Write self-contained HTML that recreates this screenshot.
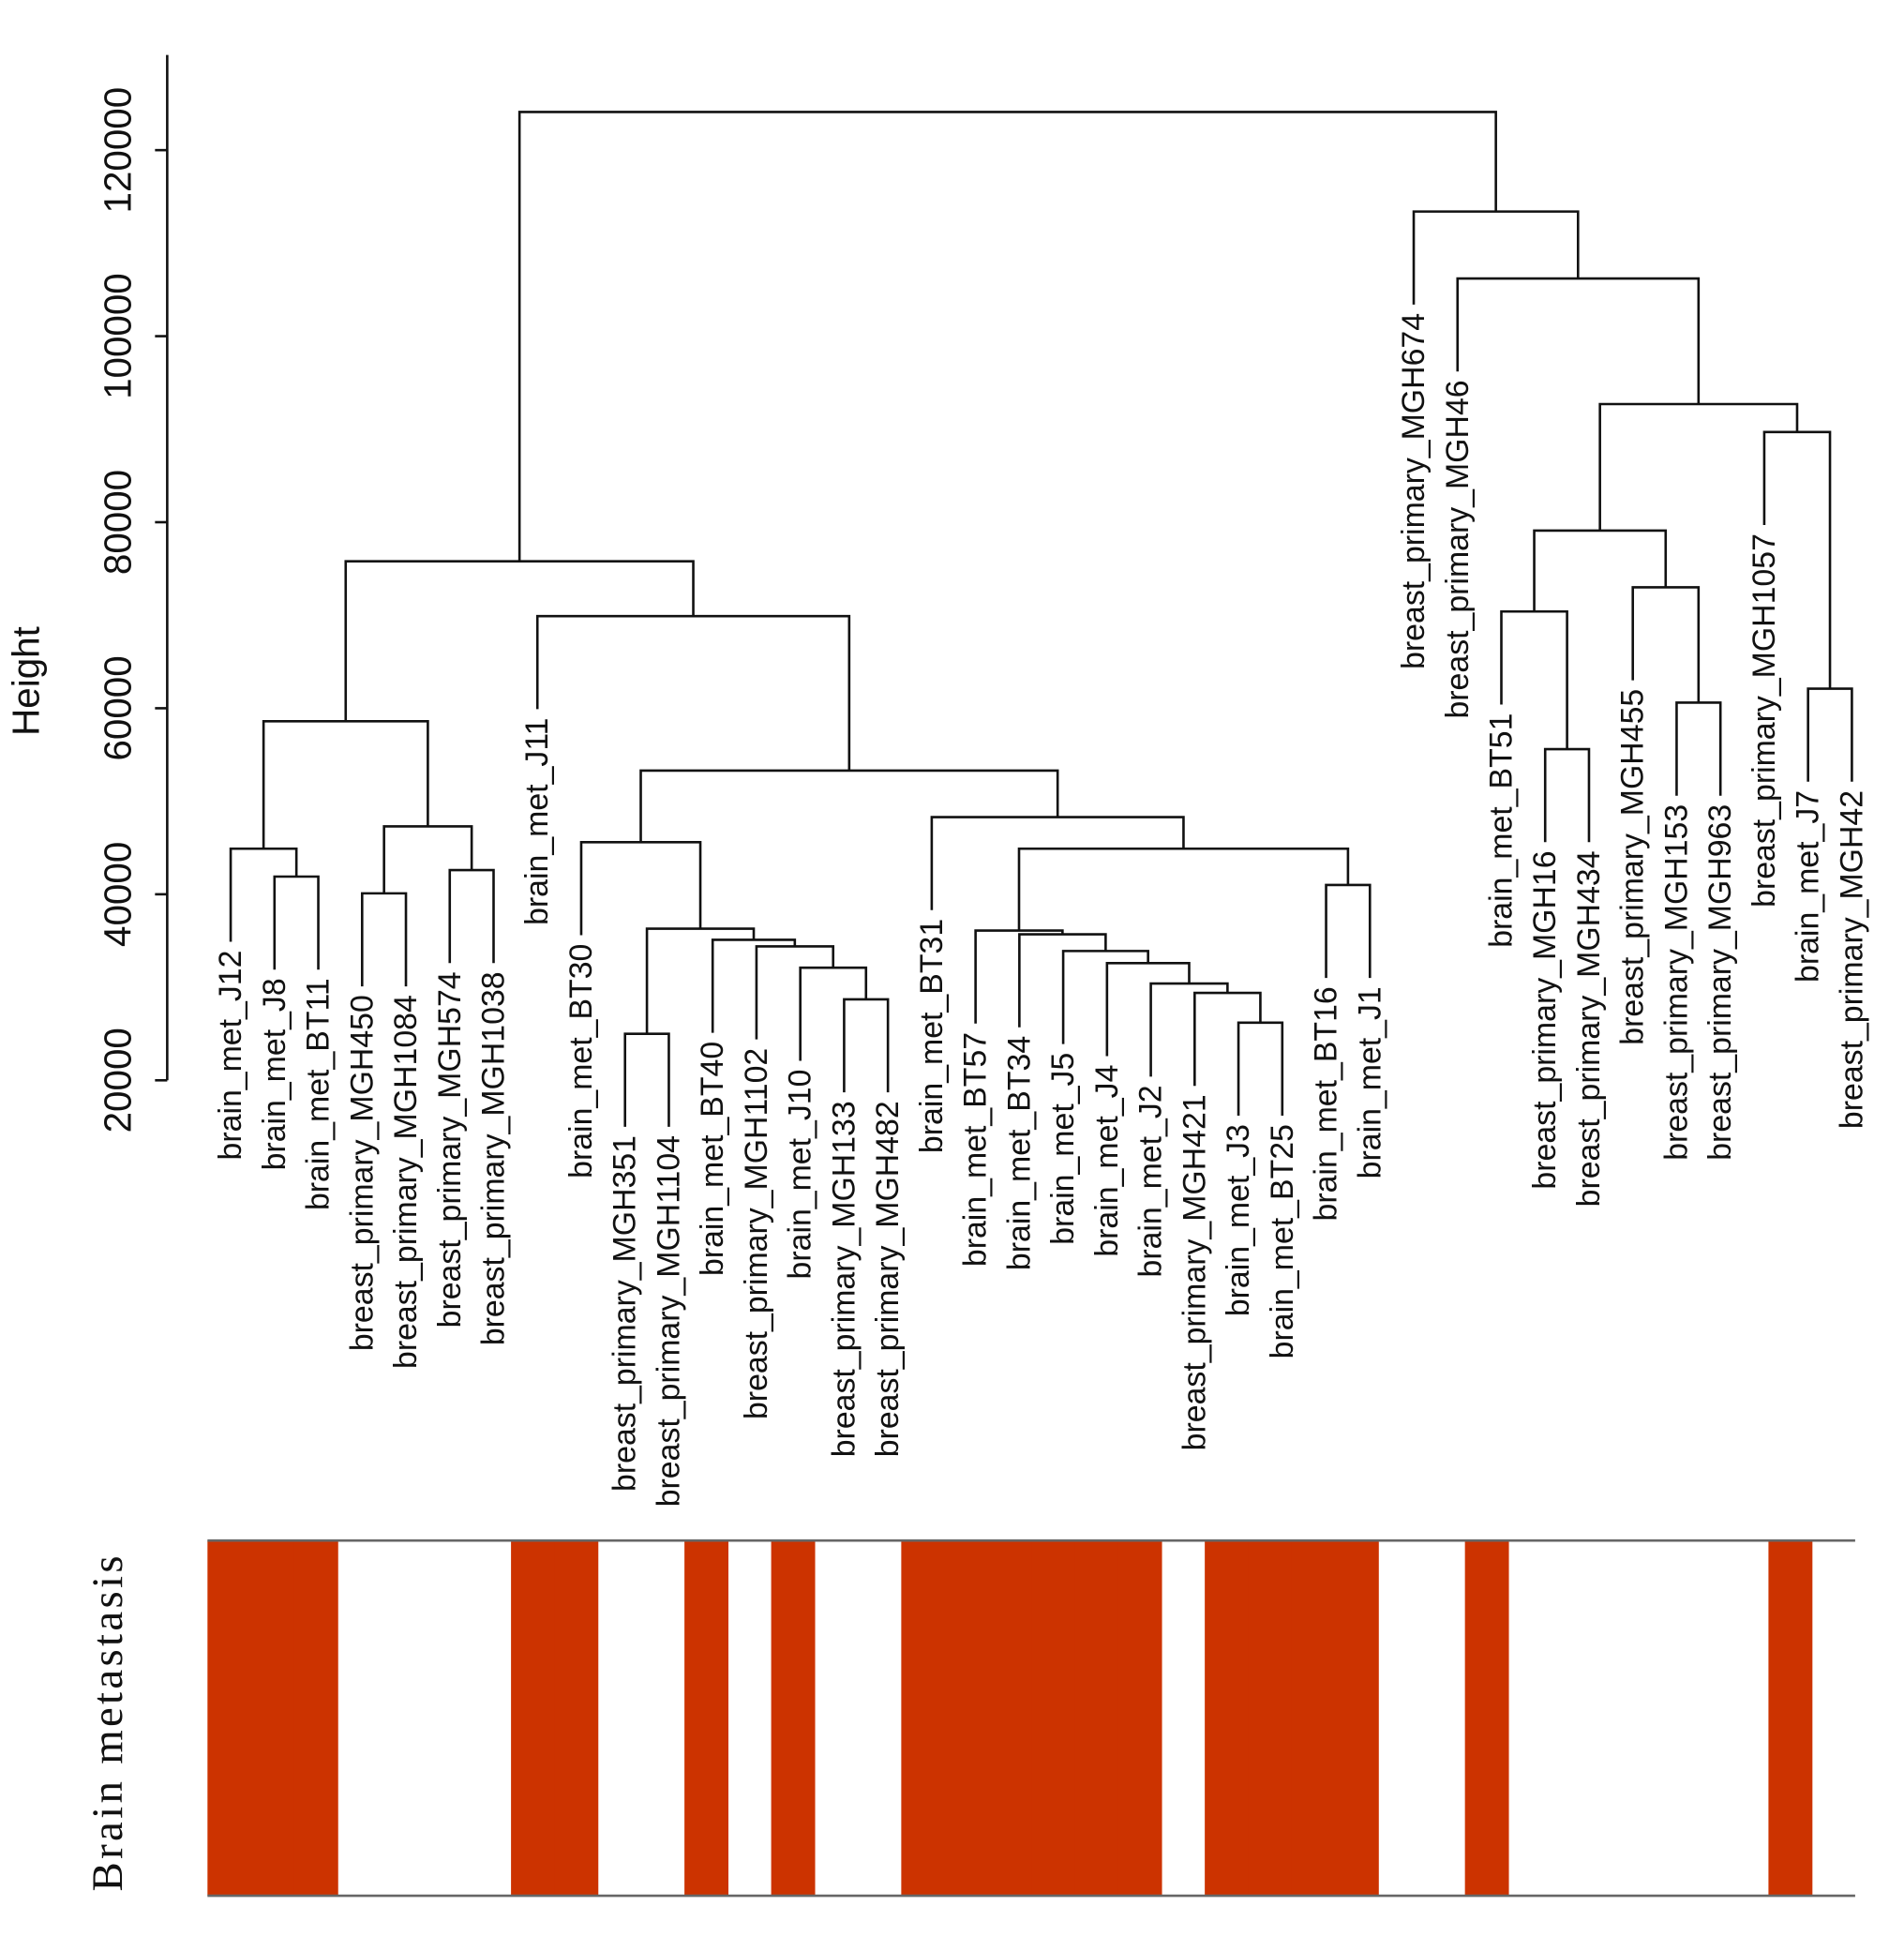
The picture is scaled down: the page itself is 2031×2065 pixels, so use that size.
<!DOCTYPE html>
<html><head><meta charset="utf-8"><style>
html,body{margin:0;padding:0;background:#fff;}
svg{display:block;}
text{font-family:"Liberation Sans",sans-serif;fill:#111;}
</style></head><body>
<svg id="chart" width="2031" height="2065" viewBox="0 0 1560 1586" preserveAspectRatio="none" xmlns="http://www.w3.org/2000/svg">
<g id="axis"></g>
<g id="tree"></g>
<g id="labels"></g>
<g id="strip"></g>
<text transform="translate(32,558) rotate(-90)" text-anchor="middle" font-size="31">Height</text>
<text transform="translate(100,1412) rotate(-90)" text-anchor="middle" font-size="36" textLength="275" lengthAdjust="spacing" style="font-family:'Liberation Serif',serif">Brain metastasis</text>
</svg>
<script>
const leafNames = ["brain_met_J12","brain_met_J8","brain_met_BT11","breast_primary_MGH450","breast_primary_MGH1084","breast_primary_MGH574","breast_primary_MGH1038","brain_met_J11","brain_met_BT30","breast_primary_MGH351","breast_primary_MGH1104","brain_met_BT40","breast_primary_MGH1102","brain_met_J10","breast_primary_MGH133","breast_primary_MGH482","brain_met_BT31","brain_met_BT57","brain_met_BT34","brain_met_J5","brain_met_J4","brain_met_J2","breast_primary_MGH421","brain_met_J3","brain_met_BT25","brain_met_BT16","brain_met_J1","breast_primary_MGH674","breast_primary_MGH46","brain_met_BT51","breast_primary_MGH16","breast_primary_MGH434","breast_primary_MGH455","breast_primary_MGH153","breast_primary_MGH963","breast_primary_MGH1057","brain_met_J7","breast_primary_MGH42"];
// merges: negative = leaf index (1-based), positive = earlier merge (1-based)
const mergeLeft  = [-2, -1, -4, -6, 3, 2, -10, -15, -14, -13, -12, 7, -9, -24, -23, -22, -21, -20, -19, -18, -26, 20, -17, 13, -8, 6, -31, -30, -34, -33, 28, -37, -36, 31, -29, -28, 26];
const mergeRight = [-3, 1, -5, -7, 4, 5, -11, -16, 8, 9, 10, 11, 12, -25, 14, 15, 16, 17, 18, 19, -27, 21, 22, 23, 24, 25, -32, 27, -35, 29, 30, -38, 32, 33, 34, 35, 36];
const mergeHeight = [41900, 44900, 40100, 42600, 47300, 58600, 25000, 28700, 32100, 34400, 35100, 36300, 45600, 26200, 29400, 30400, 32600, 33900, 35700, 36100, 41000, 44900, 48300, 53300, 69900, 75800, 55600, 70400, 60600, 73000, 79100, 62100, 89700, 92700, 106200, 113400, 124100];
const yTicks = [20000, 40000, 60000, 80000, 100000, 120000];
const hang = 10000;

const NS="http://www.w3.org/2000/svg";
function yS(v){return 885-(v-20000)/20000*152.4;}
function xS(i){return 189+i*35.9;}
function mk(tag,attrs,parent){const e=document.createElementNS(NS,tag);for(const k in attrs)e.setAttribute(k,attrs[k]);parent.appendChild(e);return e;}
const axis=document.getElementById('axis'),tree=document.getElementById('tree'),labels=document.getElementById('labels'),strip=document.getElementById('strip');
const line={stroke:"#111","stroke-width":2,fill:"none"};

let al=mk('line',Object.assign({x1:137,x2:137,y1:45,y2:yS(yTicks[0])},line),axis);


yTicks.forEach(t=>{
  const tk=mk('line',Object.assign({x1:127,x2:137,y1:yS(t),y2:yS(t)},line),axis);
  
  
  const tx=mk('text',{transform:`translate(107,${yS(t)}) rotate(-90)`,"text-anchor":"middle","font-size":31},axis);
  tx.textContent=t;
  
  
});

const nodeX=[],nodeH=[];
function pos(ref){return ref<0?{x:xS(-ref-1),h:null,leaf:-ref-1}:{x:nodeX[ref-1],h:nodeH[ref-1]};}
for(let m=0;m<mergeHeight.length;m++){
  const h=mergeHeight[m];
  const a=pos(mergeLeft[m]),b=pos(mergeRight[m]);
  const ya=a.h===null?h-hang:a.h, yb=b.h===null?h-hang:b.h;
  const p=mk('path',Object.assign({d:`M${a.x},${yS(ya)}V${yS(h)}H${b.x}V${yS(yb)}`},line),tree);
  
  
  [a,b].forEach((o,k)=>{
    if(o.h===null){
      const yy=yS((k?yb:ya))+7;
      const t=mk('text',{transform:`translate(${o.x},${yy}) rotate(-90)`,"text-anchor":"end","dominant-baseline":"central","font-size":26},labels);
      t.textContent=leafNames[o.leaf];
      
      
    }
  });
  nodeX.push((a.x+b.x)/2);nodeH.push(h);
}

const sx0=170,sx1=1520,sw=(sx1-sx0)/leafNames.length;
leafNames.forEach((n,i)=>{
  if(n.startsWith('brain_met')){
    const r=mk('rect',{x:sx0+i*sw,y:1262,width:sw+0.5,height:291,fill:"#CC3300"},strip);
    
    
  }
});
[1262,1553].forEach(y=>{
  const l=mk('line',{x1:sx0,x2:sx1,y1:y,y2:y,stroke:"#666","stroke-width":2},strip);
  
  
});
</script>
</body></html>
